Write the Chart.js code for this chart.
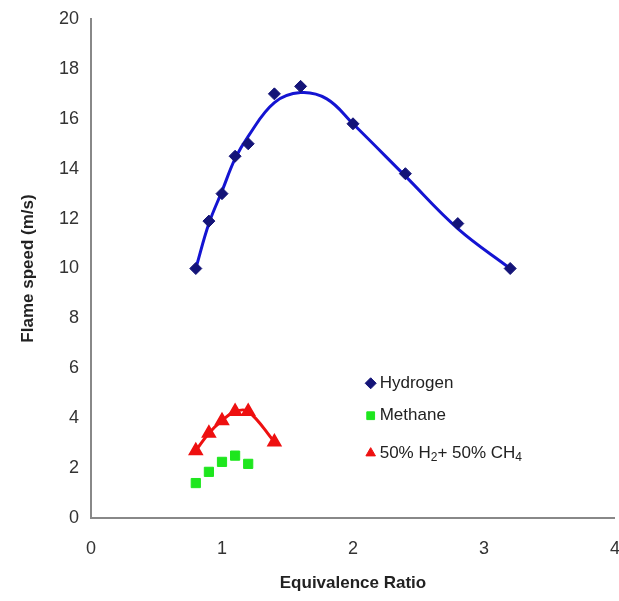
<!DOCTYPE html>
<html>
<head>
<meta charset="utf-8">
<script src="https://cdn.jsdelivr.net/npm/chart.js@4.4.0/dist/chart.umd.min.js"></script>
<style>
  html, body { margin: 0; padding: 0; background: #fff; overflow: hidden; }
  #wrap { width: 634px; height: 601px; }
</style>
</head>
<body>
<div id="wrap"><canvas id="flameChart" width="634" height="601"></canvas></div>
<script>
// Laminar flame speed vs. equivalence ratio
const h2Ratio = [0.8, 0.9, 1.0, 1.1, 1.2, 1.4, 1.6, 2.0, 2.4, 2.8, 3.2];
const h2Speed = [10, 11.9, 13, 14.5, 15, 17, 17.3, 15.8, 13.8, 11.8, 10];

// smooth fitted curve drawn through the hydrogen data
const h2FitRatio = [0.8, 0.9, 1.0, 1.1, 1.2, 1.4, 1.6, 1.8, 2.0, 2.4, 2.8, 3.2];
const h2FitSpeed = [10, 11.8, 13.1, 14.4, 15.3, 16.65, 17.05, 16.8, 15.8, 13.7, 11.6, 10];

const ch4Ratio = [0.8, 0.9, 1.0, 1.1, 1.2];
const ch4Speed = [1.4, 1.85, 2.25, 2.5, 2.17];

const mixRatio = [0.8, 0.9, 1.0, 1.1, 1.2, 1.4];
const mixSpeed = [2.7, 3.4, 3.9, 4.27, 4.27, 3.05];

const xTicks = [0, 1, 2, 3, 4];
const yTicks = [0, 2, 4, 6, 8, 10, 12, 14, 16, 18, 20];

// legend entries: text pieces, second value = subscript
const legendItems = [
    { ds: 1, parts: [['Hydrogen', false]] },
    { ds: 2, parts: [['Methane', false]] },
    { ds: 3, parts: [['50% H', false], ['2', true], ['+ 50% CH', false], ['4', true]] }
];

const toXY = (xs, ys) => xs.map((x, i) => ({ x: x, y: ys[i] }));

const insideLegend = {
    id: 'insideLegend',
    afterDraw(chart) {
        const ctx = chart.ctx;
        const sx = chart.scales.x, sy = chart.scales.y;
        const rowY = [5.4, 4.1, 2.6];
        ctx.save();
        legendItems.forEach((item, k) => {
            const ds = chart.data.datasets[item.ds];
            const mx = sx.getPixelForValue(2.135);
            const my = sy.getPixelForValue(rowY[k]);
            ctx.fillStyle = ds.pointBackgroundColor;
            ctx.strokeStyle = ds.pointBorderColor;
            ctx.lineWidth = 1;
            Chart.helpers.drawPoint(ctx, {
                pointStyle: ds.pointStyle,
                radius: 5.5,
                rotation: 0,
                borderWidth: 1
            }, mx, my);
            let tx = mx + 9;
            ctx.fillStyle = '#222';
            ctx.textBaseline = 'middle';
            ctx.textAlign = 'left';
            item.parts.forEach(p => {
                ctx.font = p[1] ? '12px "Liberation Sans", Arial' : '17px "Liberation Sans", Arial';
                ctx.fillText(p[0], tx, p[1] ? my + 5 : my);
                tx += ctx.measureText(p[0]).width;
            });
        });
        ctx.restore();
    }
};

const ctx = document.getElementById('flameChart').getContext('2d');

const flameChart = new Chart(ctx, {
    type: 'scatter',
    data: {
        datasets: [
            {
                label: 'Hydrogen fit',
                data: toXY(h2FitRatio, h2FitSpeed),
                showLine: true,
                borderColor: '#1414d2',
                borderWidth: 3,
                pointRadius: 0,
                tension: 0.4,
                order: 2
            },
            {
                label: 'Hydrogen',
                data: toXY(h2Ratio, h2Speed),
                showLine: false,
                pointStyle: 'rectRot',
                pointRadius: 6,
                pointBackgroundColor: '#141478',
                pointBorderColor: '#141478',
                order: 1
            },
            {
                label: 'Methane',
                data: toXY(ch4Ratio, ch4Speed),
                showLine: false,
                pointStyle: 'rect',
                pointRadius: 6.5,
                pointBackgroundColor: '#1ee61e',
                pointBorderColor: '#1ee61e'
            },
            {
                label: '50% H2+ 50% CH4',
                data: toXY(mixRatio, mixSpeed),
                showLine: true,
                borderColor: '#ee1010',
                borderWidth: 3,
                tension: 0.4,
                pointStyle: 'triangle',
                pointRadius: 6,
                pointBackgroundColor: '#ee1010',
                pointBorderColor: '#ee1010'
            }
        ]
    },
    options: {
        responsive: false,
        animation: false,
        layout: { padding: { top: 19, left: 14, right: 0, bottom: 0 } },
        plugins: {
            legend: { display: false },
            tooltip: { enabled: false }
        },
        scales: {
            x: {
                type: 'linear',
                min: 0,
                max: 4,
                afterBuildTicks: axis => { axis.ticks = xTicks.map(v => ({ value: v })); },
                afterFit: axis => { axis.height = 83; },
                grid: { display: false, drawTicks: true, tickLength: 6, tickColor: '#777' },
                border: { color: '#888', width: 2 },
                ticks: { color: '#333', font: { size: 18, family: '"Liberation Sans", Arial' }, padding: 14 },
                title: {
                    display: true,
                    text: 'Equivalence Ratio',
                    color: '#222',
                    font: { size: 17, weight: 'bold', family: '"Liberation Sans", Arial' },
                    padding: { top: 4, bottom: 7 }
                }
            },
            y: {
                min: 0,
                max: 20,
                afterBuildTicks: axis => { axis.ticks = yTicks.map(v => ({ value: v })); },
                afterFit: axis => { axis.width = 77; },
                grid: { display: false, drawTicks: true, tickLength: 6, tickColor: '#777' },
                border: { color: '#888', width: 2 },
                ticks: { color: '#333', font: { size: 18, family: '"Liberation Sans", Arial' }, padding: 6 },
                title: {
                    display: true,
                    text: 'Flame speed (m/s)',
                    color: '#222',
                    font: { size: 17, weight: 'bold', family: '"Liberation Sans", Arial' },
                    padding: { bottom: 4 }
                }
            }
        }
    },
    plugins: [insideLegend]
});
</script>
</body>
</html>
